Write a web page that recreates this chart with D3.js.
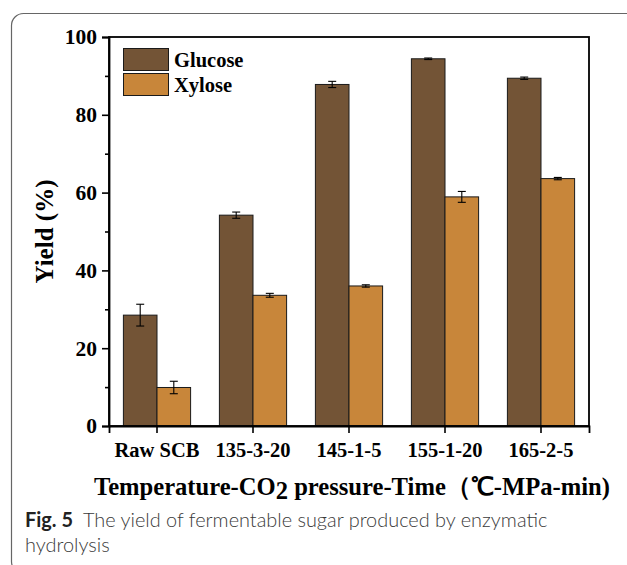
<!DOCTYPE html>
<html>
<head>
<meta charset="utf-8">
<script src="https://cdn.jsdelivr.net/npm/d3@7"></script>
<style>
  html, body { margin: 0; padding: 0; background: #fff; }
  svg { display: block; }
</style>
</head>
<body>
<svg id="chart" width="627" height="565"></svg>
<script>
const categories = ["Raw SCB", "135-3-20", "145-1-5", "155-1-20", "165-2-5"];
const seriesNames = ["Glucose", "Xylose"];
const glucose = [28.5, 54.2, 87.8, 94.4, 89.4];
const glucoseErr = [2.8, 0.8, 0.8, 0.2, 0.3];
const xylose = [9.9, 33.6, 36.0, 58.9, 63.6];
const xyloseErr = [1.6, 0.5, 0.3, 1.4, 0.3];
const yTicks = [0, 20, 40, 60, 80, 100];
const yMinorTicks = [10, 30, 50, 70, 90];
const colors = ["#735436", "#C8863A"];

(function () {
const svg = d3.select("#chart");
const serif = "'Liberation Serif', 'Times New Roman', serif";

// card border
svg.append("rect")
  .attr("x", 11.5).attr("y", 13.5).attr("width", 700).attr("height", 560)
  .attr("rx", 12).attr("fill", "none").attr("stroke", "#666").attr("stroke-width", 1.2);

const pLeft = 109, pRight = 589, pTop = 37, pBottom = 426;

const x = d3.scaleBand().domain(categories).range([pLeft, pRight])
  .paddingInner(0.3).paddingOuter(0.15);
const xs = d3.scaleBand().domain(seriesNames).range([0, x.bandwidth()]).padding(0);
const y = d3.scaleLinear().domain([0, 100]).range([pBottom, pTop]);

const data = categories.map((c, i) => ({
  cat: c,
  vals: [
    { s: "Glucose", v: glucose[i], e: glucoseErr[i], c: colors[0] },
    { s: "Xylose", v: xylose[i], e: xyloseErr[i], c: colors[1] }
  ]
}));

const g = svg.append("g");
const groups = g.selectAll("g.grp").data(data).enter().append("g")
  .attr("transform", d => `translate(${x(d.cat)},0)`);

groups.selectAll("rect").data(d => d.vals).enter().append("rect")
  .attr("x", d => xs(d.s)).attr("width", xs.bandwidth())
  .attr("y", d => y(d.v)).attr("height", d => y(0) - y(d.v))
  .attr("fill", d => d.c).attr("stroke", "#1a1a1a").attr("stroke-width", 1);

// error bars
const eb = groups.selectAll("g.eb").data(d => d.vals).enter().append("g")
  .attr("stroke", "#000").attr("stroke-width", 1.1);
const cx = d => xs(d.s) + xs.bandwidth() / 2;
eb.append("line")
  .attr("x1", cx).attr("x2", cx)
  .attr("y1", d => y(d.v + d.e)).attr("y2", d => y(d.v - d.e));
eb.append("line")
  .attr("x1", d => cx(d) - 4).attr("x2", d => cx(d) + 4)
  .attr("y1", d => y(d.v + d.e)).attr("y2", d => y(d.v + d.e));
eb.append("line")
  .attr("x1", d => cx(d) - 4).attr("x2", d => cx(d) + 4)
  .attr("y1", d => y(d.v - d.e)).attr("y2", d => y(d.v - d.e));

// frame
svg.append("rect").attr("x", pLeft).attr("y", pTop).attr("width", pRight - pLeft).attr("height", pBottom - pTop)
  .attr("fill", "none").attr("stroke", "#000").attr("stroke-width", 1.8);

// y axis
const yAxis = d3.axisLeft(y).tickValues(yTicks).tickSize(7).tickPadding(5);
const ya = svg.append("g").attr("transform", `translate(${pLeft},0)`).call(yAxis);
ya.select(".domain").attr("stroke-width", 1.8);
ya.selectAll(".tick line").attr("stroke-width", 1.6);
ya.selectAll(".tick text").attr("font-family", serif).attr("font-weight", "bold")
  .attr("font-size", 21.5).attr("fill", "#000");
const yMinor = d3.axisLeft(y).tickValues(yMinorTicks).tickSize(4).tickFormat("");
const ym = svg.append("g").attr("transform", `translate(${pLeft},0)`).call(yMinor);
ym.select(".domain").remove();
ym.selectAll(".tick line").attr("stroke-width", 1.6);

// x axis
const xAxis = d3.axisBottom(x).tickSize(7).tickPadding(5);
const xa = svg.append("g").attr("transform", `translate(0,${pBottom})`).call(xAxis);
xa.select(".domain").attr("stroke-width", 1.8);
xa.selectAll(".tick line").attr("stroke-width", 1.6);
xa.selectAll(".tick text").attr("font-family", serif).attr("font-weight", "bold")
  .attr("font-size", 20.5).attr("fill", "#000").attr("dy", null).attr("y", 31);

// y title
svg.append("text")
  .attr("transform", `translate(53,231.5) rotate(-90)`)
  .attr("text-anchor", "middle")
  .attr("font-family", serif).attr("font-weight", "bold").attr("font-size", 25)
  .text("Yield (%)");

// x title
const xt = svg.append("text").attr("x", 94).attr("y", 495)
  .attr("font-family", serif).attr("font-weight", "bold").attr("font-size", 24.6);
xt.append("tspan").text("Temperature-CO");
xt.append("tspan").attr("dy", 4).text("2");
xt.append("tspan").attr("dy", -4).text(" pressure-Time");
xt.append("tspan").text("（℃-MPa-min");
xt.append("tspan").attr("font-family", serif).text(")");

// legend
const leg = svg.append("g");
seriesNames.forEach((s, i) => {
  leg.append("rect").attr("x", 123.5).attr("y", 48.5 + i * 25).attr("width", 45).attr("height", 22)
    .attr("fill", colors[i]).attr("stroke", "#1a1a1a").attr("stroke-width", 1);
  leg.append("text").attr("x", 174).attr("y", 67 + i * 25)
    .attr("font-family", serif).attr("font-weight", "bold").attr("font-size", 20.5).text(s);
});

// caption
const capFont = "Lato, 'Open Sans', sans-serif";
const cap = svg.append("text").attr("x", 25).attr("y", 527)
  .attr("font-family", capFont).attr("font-size", 19).attr("fill", "#3a3a3a");
cap.append("tspan").attr("font-weight", "bold").attr("fill", "#222").text("Fig. 5");
cap.append("tspan").attr("font-weight", 300).text("\u2002The yield of fermentable sugar produced by enzymatic");
const w = cap.node().getComputedTextLength();
const fs = 19 * 523 / w;
cap.attr("font-size", fs);
svg.append("text").attr("x", 25).attr("y", 552)
  .attr("font-family", capFont).attr("font-size", fs).attr("font-weight", 300)
  .attr("fill", "#3a3a3a").text("hydrolysis");
})();
</script>
</body>
</html>
